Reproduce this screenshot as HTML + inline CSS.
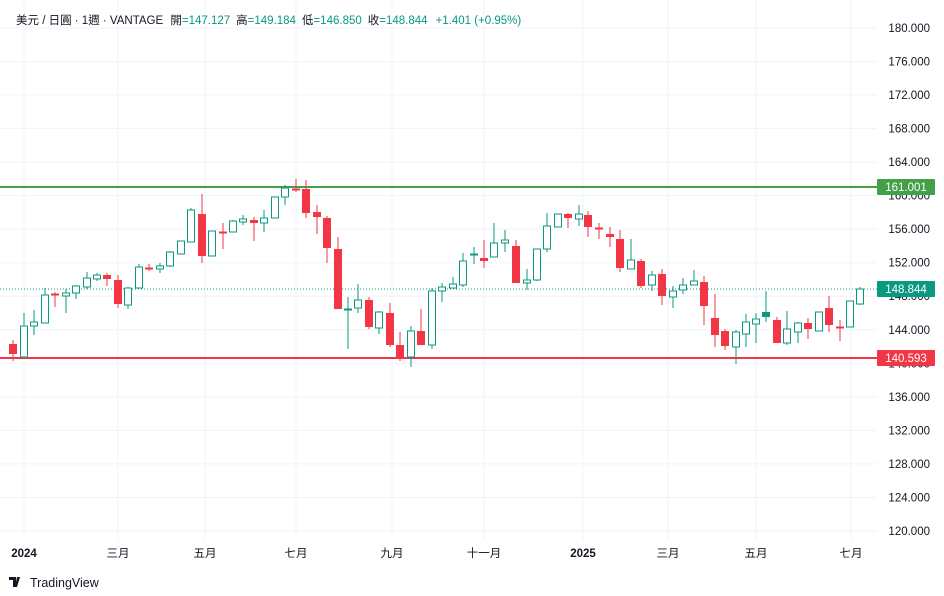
<!DOCTYPE html>
<html><head><meta charset="utf-8"><style>
body{margin:0;background:#fff;width:944px;height:596px;overflow:hidden;font-family:"Liberation Sans","Noto Sans CJK TC",sans-serif}
svg{position:absolute;left:0;top:0}
</style></head><body>
<svg id="s" width="944" height="596" xmlns="http://www.w3.org/2000/svg" font-family="Liberation Sans, Noto Sans CJK TC, sans-serif"></svg>
<script>
const s=document.getElementById('s');let h='';
const G='#089981',R='#f23645';
// grid
for(let k=0;k<=15;k++){const y=28+k*33.53;h+=`<line x1="0" x2="877" y1="${y}" y2="${y}" stroke="#f0f3fa"/>`;
 h+=`<text x="930" y="${y+4}" font-size="11.5" fill="#131722" text-anchor="end">${(180-4*k).toFixed(3)}</text>`;}
const mx=[[24,'2024',1],[118,'三月'],[205,'五月'],[296,'七月'],[392,'九月'],[484,'十一月'],[583,'2025',1],[668,'三月'],[756,'五月'],[851,'七月']];
for(const m of mx){h+=`<line x1="${m[0]}" x2="${m[0]}" y1="0" y2="540" stroke="#f0f3fa"/>`;
 h+=`<text x="${m[0]}" y="557" font-size="11.5" fill="#131722" text-anchor="middle" ${m[2]?'font-weight="bold"':''}>${m[1]}</text>`;}
h+=`<line x1="0" x2="877" y1="289" y2="289" stroke="${G}" stroke-dasharray="1,2"/>`;
h+=`<line x1="0" x2="877" y1="187" y2="187" stroke="#43a047" stroke-width="2"/>`;
h+=`<line x1="0" x2="877" y1="358" y2="358" stroke="${R}" stroke-width="2"/>`;
// candles: x,o,c,hi,lo
const c=[[13,344,354,340,361],[24,357,326,358,313],[34,326,322,335,310],[45,323,295,323,288],[55,294,294.5,292,307,'r'],[66,296,293,313,289],[76,293,286,299,285],[87,287,278,289,272],[97,279,275,281,273],[107,275,279,273,286],[118,280,304,275,308],[128,305,288,309,287],[139,288,267,288,264],[149,268,268.5,264,271,'r'],[160,269,266,273,263],[170,266,252,267,251],[181,254,241,254,241],[191,242,210,242,208],[202,214,256,194,263],[212,256,231,256,231],[223,232,232.5,223,249,'r'],[233,232,221,232,220],[243,222,219,225,215],[254,220,223,217,241],[264,223,218,232,210],[275,218,197,218,197],[285,197,188,205,185],[296,189,189.5,179,192,'r'],[306,189,213,180,218],[317,212,217,205,234],[327,218,248,216,263],[338,249,309,237,309],[348,309.5,309,349,297,'g'],[358,308,300,313,284],[369,300,327,297,329],[379,328,312,334,311],[390,313,345,303,347],[400,345,357,332,361],[411,357,331,367,326],[421,331,345,309,345],[432,345,291,349,288],[442,291,287,302,283],[453,288,284,288,277],[463,285,261,287,253],[474,254.5,254,264,247,'gf'],[484,258,261,240,268],[494,257,243,257,223],[505,243,240,252,230],[516,246,283,240,283],[527,283,280,290,269],[537,280,249,281,249],[547,249,226,252,213],[558,227,214,227,214],[568,214,218,213,228],[579,219,214,226,205],[588,215,227,211,237],[599,228,228.5,223,239,'r'],[610,234,237,227,247],[620,239,268,230,272],[631,269,260,269,239],[641,261,286,259,288],[652,285,275,291,271],[662,274,296,269,305],[673,297,291,308,286],[683,290,285,294,278],[694,285,281,285,270],[704,282,306,276,325],[715,318,335,294,347],[725,331,346,329,350],[736,347,332,364,330],[746,334,322,347,314],[756,324,319,343,313],[766,317,312,322,291,'gf'],[777,320,343,317,343],[787,343,329,345,311],[798,332,323,343,322],[808,323,329,318,339],[819,331,312,331,312],[829,308,325,296,332],[840,327,327.5,320,341,'r'],[850,327,301,327,301],[860,304,289,305,287]];
for(const d of c){let [x,o,cl,a,b,f]=d;const hi=Math.min(a,b),lo=Math.max(a,b);
 let up=cl<o; if(f==='r')up=false; if(f==='g'||f==='gf')up=true;
 const col=up?G:R;
 const t=Math.min(o,cl),bh=Math.max(1.5,Math.abs(o-cl));
 h+=`<line x1="${x}" x2="${x}" y1="${hi}" y2="${lo}" stroke="${col}" stroke-width="1"/>`;
 if(up&&f!=='gf'&&f!=='g') h+=`<rect x="${x-3.5}" y="${t}" width="7" height="${bh}" fill="#fff" stroke="${col}" stroke-width="1"/>`;
 else h+=`<rect x="${x-4}" y="${t-(bh<2?0.5:0)}" width="8" height="${bh<2?2:bh}" fill="${col}"/>`;}
// badges
const bd=[[187,'#43a047','161.001'],[289,G,'148.844'],[358,R,'140.593']];
for(const b of bd){h+=`<rect x="877" y="${b[0]-8}" width="58" height="16" rx="1" fill="${b[1]}"/><text x="906" y="${b[0]+4}" font-size="11.5" fill="#fff" text-anchor="middle">${b[2]}</text>`;}
// header
h+=`<text x="16" y="24" font-size="11.5" fill="#131722">美元 / 日圓 · 1週 · VANTAGE <tspan dx="4">開</tspan><tspan fill="${G}">=147.127</tspan><tspan dx="6">高</tspan><tspan fill="${G}">=149.184</tspan><tspan dx="6">低</tspan><tspan fill="${G}">=146.850</tspan><tspan dx="6">收</tspan><tspan fill="${G}">=148.844</tspan><tspan dx="8" fill="${G}">+1.401 (+0.95%)</tspan></text>`;
// logo
h+=`<path d="M9 577h7v10h-3v-7h-4z M17 577h3l-3 10h-2z" fill="#131722"/><text x="30" y="587" font-size="12.5" fill="#131722">TradingView</text>`;
s.innerHTML=h;
</script>
</body></html>
